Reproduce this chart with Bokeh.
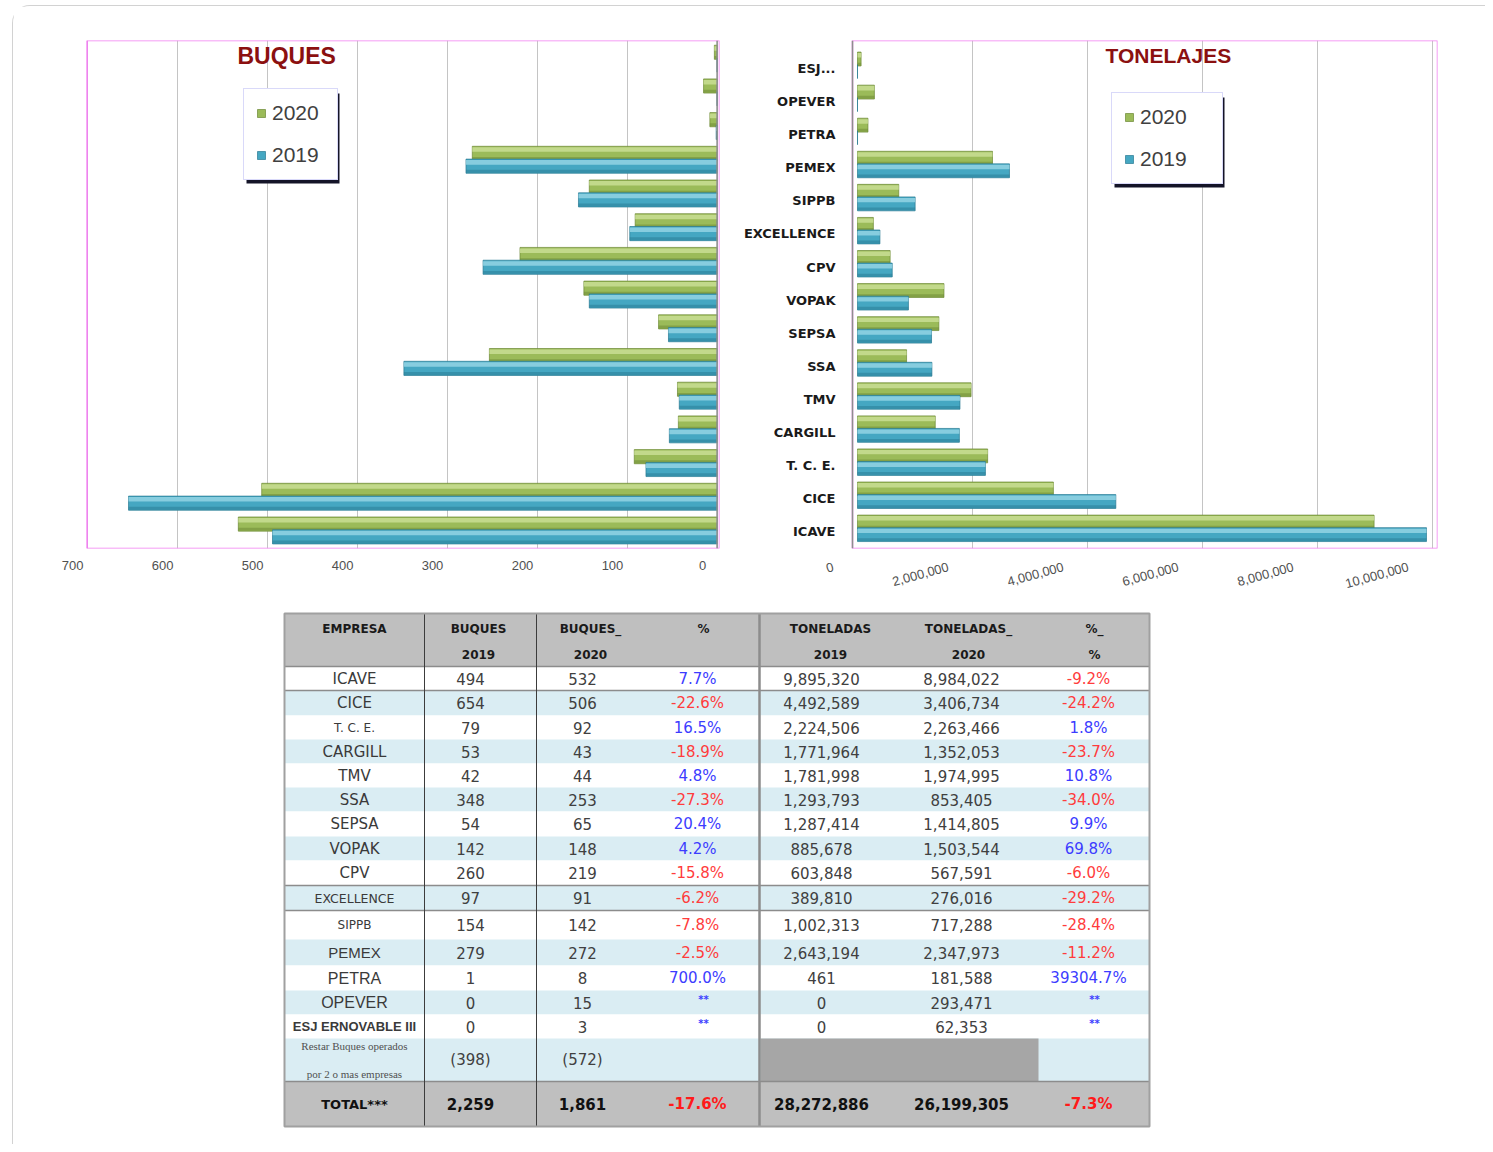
import numpy as np
from bokeh.plotting import figure
from bokeh.models import (Range1d, LinearAxis, FixedTicker, SingleIntervalTicker, NumeralTickFormatter,
                          Legend, LegendItem, Label, BoxAnnotation, Span, ColumnDataSource)
from bokeh.layouts import row, column
from bokeh.embed import file_html
from bokeh.resources import INLINE
from bokeh.core.properties import value

# ---------------- data ----------------
empresas = ["ICAVE", "CICE", "T. C. E.", "CARGILL", "TMV", "SSA", "SEPSA", "VOPAK", "CPV",
            "EXCELLENCE", "SIPPB", "PEMEX", "PETRA", "OPEVER", "ESJ ERNOVABLE III"]
buques_2019 = [494, 654, 79, 53, 42, 348, 54, 142, 260, 97, 154, 279, 1, 0, 0]
buques_2020 = [532, 506, 92, 43, 44, 253, 65, 148, 219, 91, 142, 272, 8, 15, 3]
pct_buques = [7.7, -22.6, 16.5, -18.9, 4.8, -27.3, 20.4, 4.2, -15.8, -6.2, -7.8, -2.5, 700.0, None, None]
ton_2019 = [9895320, 4492589, 2224506, 1771964, 1781998, 1293793, 1287414, 885678, 603848,
            389810, 1002313, 2643194, 461, 0, 0]
ton_2020 = [8984022, 3406734, 2263466, 1352053, 1974995, 853405, 1414805, 1503544, 567591,
            276016, 717288, 2347973, 181588, 293471, 62353]
pct_ton = [-9.2, -24.2, 1.8, -23.7, 10.8, -34.0, 9.9, 69.8, -6.0, -29.2, -28.4, -11.2, 39304.7, None, None]
restar_buques = [-398, -572]
total_buques = [2259, 1861]
total_pct_buques = -17.6
total_ton = [28272886, 26199305]
total_pct_ton = -7.3
header_line1 = ["EMPRESA", "BUQUES", "BUQUES_", "%", "TONELADAS", "TONELADAS_", "%_"]
header_line2 = ["", "2019", "2020", "", "2019", "2020", "%"]

# ---------------- styles ----------------
GREEN = ("#9bbb59", "#c9de94", "#6c8833")
BLUE = ("#45a7c2", "#93d3e4", "#287a92")
TITLE_RED = "#8b1010"
PINK = "#f27cf2"
WALL = "#8e8e8e"

idx = np.arange(len(empresas))
chart_labels = [n if len(n) <= 12 else n[:3] + "..." for n in empresas]


def bars(p, vals, off, colors, h=0.42):
    main, light, dark = colors
    y = idx + off
    r = p.hbar(y=y, left=0, right=vals, height=h, fill_color=main, line_color=dark, line_width=0.7)
    p.hbar(y=y + h * 0.27, left=0, right=vals, height=h * 0.32, fill_color=light, line_color=None, fill_alpha=0.85)
    p.hbar(y=y - h * 0.36, left=0, right=vals, height=h * 0.2, fill_color=dark, line_color=None, fill_alpha=0.5)
    return r


def add_legend(p, g, b, x, y, label_width):
    w = 12 + 10 + 6 + label_width + 12
    p.add_layout(BoxAnnotation(left=x + 3, right=x + 3 + w, bottom=y - 3, top=y - 3 + 90,
                               left_units="screen", right_units="screen", top_units="screen",
                               bottom_units="screen", fill_color="#141428", fill_alpha=1,
                               line_color=None))
    leg = Legend(items=[LegendItem(label="2020", renderers=[g]), LegendItem(label="2019", renderers=[b])],
                 location=(x, y), orientation="vertical", glyph_width=10, glyph_height=10,
                 label_standoff=6, padding=12, spacing=18, label_height=24, label_width=label_width,
                 margin=0, label_text_font="Liberation Sans", label_text_font_size="21px",
                 label_text_color="#404040", border_line_color="#b4b4f4", border_line_width=1.5,
                 background_fill_color="white", background_fill_alpha=1)
    p.add_layout(leg)


def wall_box(p, left):
    p.add_layout(BoxAnnotation(left=left, fill_color=None, fill_alpha=0, line_color=PINK,
                               line_alpha=1, line_width=1.5))


# ---------------- left chart: BUQUES ----------------
pL = figure(width=707, height=602, x_range=Range1d(720.7, -2.7), y_range=Range1d(-0.495, 14.58),
            output_backend="svg", toolbar_location=None, x_axis_location=None, y_axis_location=None,
            min_border_left=55, min_border_right=1, min_border_top=34, min_border_bottom=60,
            outline_line_color=None)
pL.xgrid.ticker = SingleIntervalTicker(interval=100)
pL.xgrid.grid_line_color = "#c4c4c4"
pL.ygrid.visible = False
wall_box(pL, 700)
pL.add_layout(Span(location=0, dimension="height", line_color=WALL, line_width=1.5))
pL.extra_x_ranges = {"lab": Range1d(704.5, -18.9)}
axL = LinearAxis(x_range_name="lab", ticker=SingleIntervalTicker(interval=100),
                 axis_line_color=None, major_tick_line_color=None, minor_tick_line_color=None,
                 major_label_standoff=6, major_label_text_font="Liberation Sans",
                 major_label_text_font_size="13px", major_label_text_color="#505050")
pL.add_layout(axL, "below")
gL = bars(pL, buques_2020, 0.23, GREEN)
bL = bars(pL, buques_2019, -0.15, BLUE)
pL.add_layout(Label(x=169, y=493, x_units="screen", y_units="screen", text="BUQUES",
                    text_font="Liberation Sans", text_font_size="23px", text_font_style="bold",
                    text_color=TITLE_RED, text_baseline="middle"))
add_legend(pL, gL, bL, 175, 368, 53)

# ---------------- right chart: TONELAJES ----------------
pR = figure(width=765, height=602, x_range=Range1d(-0.4696e6, 10.087e6), y_range=Range1d(-0.51, 14.85),
            output_backend="svg", toolbar_location=None, x_axis_location=None, y_axis_location="left",
            min_border_left=110, min_border_right=48, min_border_top=34, min_border_bottom=60,
            outline_line_color=None)
pR.xgrid.ticker = FixedTicker(ticks=[2e6, 4e6, 6e6, 8e6, 10e6])
pR.xgrid.grid_line_color = "#c4c4c4"
pR.ygrid.visible = False
wall_box(pR, -0.087e6)
pR.add_layout(Span(location=-0.087e6, dimension="height", line_color=WALL, line_width=1.5))
pR.yaxis.ticker = FixedTicker(ticks=[int(i) for i in idx])
pR.yaxis.major_label_overrides = {int(i): lab for i, lab in zip(idx, chart_labels)}
pR.yaxis.major_tick_line_color = None
pR.yaxis.minor_tick_line_color = None
pR.yaxis.axis_line_color = None
pR.yaxis.major_label_standoff = -11
pR.yaxis.major_label_text_font = "DejaVu Sans"
pR.yaxis.major_label_text_font_style = "bold"
pR.yaxis.major_label_text_font_size = "13px"
pR.yaxis.major_label_text_color = "#1a1a1a"
pR.extra_x_ranges = {"lab": Range1d(-0.4696e6 + 0.42e6, 10.087e6 + 0.42e6)}
axR = LinearAxis(x_range_name="lab", ticker=SingleIntervalTicker(interval=2e6),
                 formatter=NumeralTickFormatter(format="0,0"), major_label_orientation=0.27,
                 axis_line_color=None, major_tick_line_color=None, minor_tick_line_color=None,
                 major_label_standoff=12, major_label_text_font="Liberation Sans",
                 major_label_text_font_size="13px", major_label_text_color="#505050")
pR.add_layout(axR, "below")
gR = bars(pR, ton_2020, 0.29, GREEN)
bR = bars(pR, ton_2019, -0.09, BLUE)
pR.add_layout(Label(x=275, y=493, x_units="screen", y_units="screen", text="TONELAJES",
                    text_font="Liberation Sans", text_font_size="21px", text_font_style="bold",
                    text_color=TITLE_RED, text_baseline="middle"))
add_legend(pR, gR, bR, 281, 364, 70)

# ---------------- table ----------------
pT = figure(width=1472, height=536, x_range=Range1d(13, 1485), y_range=Range1d(1144, 608),
            output_backend="svg", toolbar_location=None, x_axis_location=None, y_axis_location=None,
            min_border=0, outline_line_color=None)
pT.grid.visible = False

LIGHT = "#daedf3"
HEAD = "#bfbfbf"
T_LEFT, T_RIGHT, T_TOP = 284, 1149, 613
val_x = [354, 470, 582, 697, 821, 961, 1088]
head_x = [354, 478, 590, 703, 830, 968, 1094]
row_h = [53, 24, 25, 24, 24, 24, 24, 25, 24, 25, 25, 29, 26, 25, 24, 24, 43, 45]
y_edges = T_TOP + np.concatenate([[0], np.cumsum(row_h)])
y_mid = (y_edges[:-1] + y_edges[1:]) / 2
n = len(empresas)
bg = [HEAD] + [("white" if i % 2 == 0 else LIGHT) for i in range(n)] + [LIGHT, HEAD]
pT.quad(left=T_LEFT, right=T_RIGHT, top=y_edges[:-1], bottom=y_edges[1:], fill_color=bg, line_color=None)
pT.quad(left=760, right=1038, top=y_edges[n + 1], bottom=y_edges[n + 2], fill_color="#a6a6a6", line_color=None)
hl = [1, 2, 10, 11, n + 2]
pT.segment(x0=T_LEFT, x1=T_RIGHT, y0=y_edges[hl], y1=y_edges[hl], line_color="#8c8c8c", line_width=1.5)
pT.segment(x0=[424, 536], x1=[424, 536], y0=T_TOP, y1=y_edges[-1], line_color="#3c3c3c", line_width=1)
pT.segment(x0=[759], x1=[759], y0=T_TOP, y1=y_edges[-1], line_color="#8c8c8c", line_width=2.5)
pT.quad(left=T_LEFT, right=T_RIGHT, top=T_TOP, bottom=y_edges[-1], fill_color=None,
        line_color="#a0a0a0", line_width=2)

tx, ty, tt, tc, tf, ts, tst = [], [], [], [], [], [], []


def put(x, y, text, color="#404040", font="DejaVu Sans", size="15px", style="normal"):
    tx.append(x); ty.append(y); tt.append(text); tc.append(color); tf.append(font); ts.append(size); tst.append(style)


BLUE_T, RED_T = "#3c3cff", "#ff3c3c"
for j in range(7):
    put(head_x[j], T_TOP + 15, header_line1[j], "#1a1a1a", "DejaVu Sans", "12px", "bold")
    if header_line2[j]:
        put(head_x[j], T_TOP + 41, header_line2[j], "#1a1a1a", "DejaVu Sans", "12px", "bold")

name_style = [("DejaVu Sans", "15px", "normal"), ("DejaVu Sans", "15px", "normal"),
              ("DejaVu Sans", "12px", "normal"), ("DejaVu Sans", "15px", "normal"),
              ("DejaVu Sans", "15px", "normal"), ("DejaVu Sans", "15px", "normal"),
              ("DejaVu Sans", "15px", "normal"), ("DejaVu Sans", "15px", "normal"),
              ("DejaVu Sans", "15px", "normal"), ("DejaVu Sans", "12.5px", "normal"),
              ("DejaVu Sans", "12px", "normal"), ("Liberation Sans", "15px", "normal"),
              ("Liberation Sans", "16px", "normal"), ("Liberation Sans", "16px", "normal"),
              ("Liberation Sans", "13px", "bold")]


def pct_text(v):
    return "**" if v is None else f"{v:.1f}%"


def pct_color(v):
    return BLUE_T if (v is None or v >= 0) else RED_T


for i in range(n):
    y = y_mid[i + 1]
    f, s, st = name_style[i]
    put(val_x[0], y, empresas[i], "#3a3a3a", f, s, st)
    put(val_x[1], y, f"{buques_2019[i]:,}")
    put(val_x[2], y, f"{buques_2020[i]:,}")
    if pct_buques[i] is None:
        put(val_x[3] + 6, y - 3, "**", BLUE_T, "DejaVu Sans", "10px", "bold")
    else:
        put(val_x[3], y, pct_text(pct_buques[i]), pct_color(pct_buques[i]))
    put(val_x[4], y, f"{ton_2019[i]:,}")
    put(val_x[5], y, f"{ton_2020[i]:,}")
    if pct_ton[i] is None:
        put(val_x[6] + 6, y - 3, "**", BLUE_T, "DejaVu Sans", "10px", "bold")
    else:
        put(val_x[6], y, pct_text(pct_ton[i]), pct_color(pct_ton[i]))

yr = y_mid[n + 1]
put(val_x[0], yr - 14, "Restar Buques operados", "#505050", "Liberation Serif", "11px")
put(val_x[0], yr + 14, "por 2 o mas empresas", "#505050", "Liberation Serif", "11px")
put(val_x[1], yr, f"({abs(restar_buques[0]):,})")
put(val_x[2], yr, f"({abs(restar_buques[1]):,})")

yt = y_mid[n + 2]
put(val_x[0], yt, "TOTAL***", "#111111", "DejaVu Sans", "13px", "bold")
put(val_x[1], yt, f"{total_buques[0]:,}", "#111111", "DejaVu Sans", "15px", "bold")
put(val_x[2], yt, f"{total_buques[1]:,}", "#111111", "DejaVu Sans", "15px", "bold")
put(val_x[3], yt, pct_text(total_pct_buques), "#ff1a1a", "DejaVu Sans", "15px", "bold")
put(val_x[4], yt, f"{total_ton[0]:,}", "#111111", "DejaVu Sans", "15px", "bold")
put(val_x[5], yt, f"{total_ton[1]:,}", "#111111", "DejaVu Sans", "15px", "bold")
put(val_x[6], yt, pct_text(total_pct_ton), "#ff1a1a", "DejaVu Sans", "15px", "bold")

src = ColumnDataSource(dict(x=tx, y=ty, text=tt, color=tc, font=tf, size=ts, style=tst))
pT.text(x="x", y="y", text="text", source=src, text_color="color", text_font="font",
        text_font_size="size", text_font_style="style", text_align="center", text_baseline="middle")

layout = column(row(pL, pR), pT, margin=(5, 0, 0, 12),
                styles={"border-left": "1px solid #d2d2d2", "border-top": "1px solid #d2d2d2",
                        "border-top-left-radius": "18px"})

open("out.html", "w").write(file_html(layout, INLINE))
